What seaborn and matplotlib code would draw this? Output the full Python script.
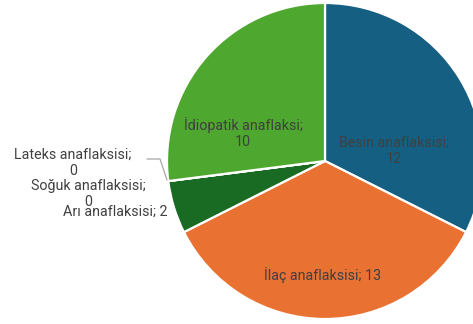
import matplotlib
matplotlib.use("Agg")
import matplotlib.pyplot as plt
import seaborn as sns

# Anaphylaxis causes and case counts
categories = ["Besin anaflaksisi", "İlaç anaflaksisi", "Arı anaflaksisi",
              "Soğuk anaflaksisi", "Lateks anaflaksisi", "İdiopatik anaflaksi"]
counts = [12, 13, 2, 0, 0, 10]
colors = ["#156082", "#E97132", "#196B24", "#0F9ED5", "#A02B93", "#4EA72E"]

sns.set_theme(style="white")
plt.rcParams["font.family"] = ["Roboto", "DejaVu Sans"]

W, H = 473, 324
fig = plt.figure(figsize=(W / 100, H / 100), dpi=100)
ax = fig.add_axes([0, 0, 1, 1])

# pie centre and radius in pixels; the pie runs past the right edge
cx, cy, r = 325, 161, 158


def px(x, y):
    return (x - cx) / r, (cy - y) / r


ax.pie(counts, colors=colors, startangle=90, counterclock=False,
       wedgeprops=dict(edgecolor="white", linewidth=1.6))
ax.set_xlim(-cx / r, (W - cx) / r)
ax.set_ylim(-(H - cy) / r, cy / r)
ax.set_aspect("auto")
ax.axis("off")

txt = "#404040"
fs = 10.3


def label(i, x, y, two_lines=True, ha="center"):
    s = f"{categories[i]};\n{counts[i]}" if two_lines else f"{categories[i]}; {counts[i]}"
    ax.text(*px(x, y), s, ha=ha, va="center", fontsize=fs, color=txt,
            linespacing=1.2)


label(0, 394, 151)
label(1, 323, 275, two_lines=False)
label(5, 243, 133)
label(2, 167, 212, two_lines=False, ha="right")
label(3, 88, 194)
label(4, 73, 163)

# leader line for the Lateks label
ax.plot([px(147, 159)[0], px(160, 159)[0], px(167, 180)[0]],
        [px(147, 159)[1], px(160, 159)[1], px(167, 180)[1]],
        color="#A6A6A6", linewidth=0.9)

fig.savefig("out.png", dpi=100)
